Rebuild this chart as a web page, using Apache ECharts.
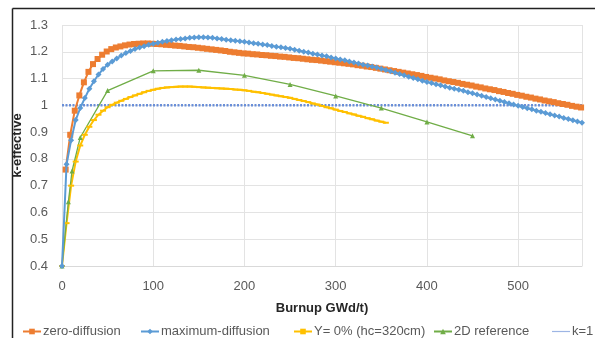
<!DOCTYPE html>
<html>
<head>
<meta charset="utf-8">
<script src="https://cdn.jsdelivr.net/npm/echarts@6/dist/echarts.min.js"></script>
<style>html,body{margin:0;padding:0;background:#fff}#c{width:595px;height:338px}</style>
</head>
<body>
<div id="c"></div>
<script>
// ---- data ----
const seriesNames = ['zero-diffusion', 'maximum-diffusion', 'Y= 0% (hc=320cm)', '2D reference', 'k=1'];
const xTicks = [0, 100, 200, 300, 400, 500];
const yTicks = [0.4, 0.5, 0.6, 0.7, 0.8, 0.9, 1, 1.1, 1.2, 1.3];

const zeroBurnup = [4,9,14,19,24,29,34,39,44,49,54,59,64,69,74,79,84,89,94,99,
  104,109,114,119,124,129,134,139,144,149,154,159,164,169,174,179,184,189,194,199,
  204,209,214,219,224,229,234,239,244,249,254,259,264,269,274,279,284,289,294,299,
  304,309,314,319,324,329,334,339,344,349,354,359,364,369,374,379,384,389,394,399,
  404,409,414,419,424,429,434,439,444,449,454,459,464,469,474,479,484,489,494,499,
  504,509,514,519,524,529,534,539,544,549,554,559,564,569];
const zeroK = [0.76,0.89,0.98,1.037,1.086,1.125,1.154,1.173,1.189,1.201,1.21,1.216,1.22,1.224,1.227,1.229,1.23,1.231,1.231,1.23,
  1.229,1.228,1.226,1.225,1.223,1.222,1.22,1.218,1.217,1.215,1.213,1.211,1.209,1.207,1.205,1.203,1.2,1.198,1.196,1.194,
  1.193,1.191,1.19,1.188,1.187,1.185,1.184,1.182,1.181,1.179,1.177,1.176,1.174,1.172,1.17,1.169,1.167,1.165,1.163,1.161,
  1.159,1.157,1.155,1.153,1.15,1.148,1.145,1.143,1.14,1.137,1.134,1.131,1.128,1.125,1.122,1.119,1.116,1.113,1.11,1.106,
  1.103,1.1,1.097,1.093,1.09,1.087,1.084,1.08,1.077,1.074,1.07,1.067,1.063,1.06,1.057,1.053,1.05,1.046,1.043,1.039,
  1.036,1.032,1.029,1.025,1.022,1.018,1.015,1.012,1.008,1.005,1.002,0.998,0.995,0.992];

const maxBurnup = [0,5,10,15,20,25,30,35,40,45,50,55,60,65,70,75,80,85,90,95,100,
  105,110,115,120,125,130,135,140,145,150,155,160,165,170,175,180,185,190,195,200,
  205,210,215,220,225,230,235,240,245,250,255,260,265,270,275,280,285,290,295,300,
  305,310,315,320,325,330,335,340,345,350,355,360,365,370,375,380,385,390,395,400,
  405,410,415,420,425,430,435,440,445,450,455,460,465,470,475,480,485,490,495,500,
  505,510,515,520,525,530,535,540,545,550,555,560,565,570];
const maxK = [0.40,0.78,0.87,0.945,0.99,1.027,1.062,1.09,1.115,1.136,1.152,1.164,1.175,1.186,1.195,1.203,1.21,1.216,1.221,1.226,1.23,
  1.234,1.237,1.24,1.243,1.246,1.248,1.25,1.252,1.253,1.254,1.254,1.253,1.252,1.25,1.248,1.245,1.243,1.241,1.239,1.237,
  1.235,1.232,1.23,1.227,1.225,1.222,1.219,1.217,1.214,1.211,1.208,1.204,1.2,1.197,1.193,1.19,1.186,1.183,1.179,1.175,
  1.171,1.168,1.164,1.16,1.156,1.152,1.149,1.145,1.141,1.137,1.132,1.127,1.122,1.117,1.112,1.107,1.102,1.097,1.092,1.087,
  1.083,1.079,1.075,1.07,1.066,1.062,1.058,1.054,1.049,1.045,1.04,1.036,1.031,1.026,1.022,1.017,1.012,1.008,1.003,0.998,
  0.994,0.989,0.985,0.98,0.976,0.971,0.967,0.962,0.958,0.953,0.949,0.944,0.94,0.935];

const yBurnup = [0,5,10,15,20,25,30,35,40,45,50,55,60,65,70,75,80,85,90,95,
  100,105,110,115,120,125,130,135,140,145,150,155,160,165,170,175,180,185,190,195,
  200,205,210,215,220,225,230,235,240,245,250,255,260,265,270,275,280,285,290,295,
  300,305,310,315,320,325,330,335,340,345,350,355];
const yK = [0.40,0.56,0.70,0.79,0.85,0.89,0.92,0.945,0.965,0.98,0.993,1.002,1.01,1.017,1.024,1.031,1.037,1.043,1.049,1.054,
  1.058,1.062,1.065,1.067,1.068,1.069,1.07,1.07,1.07,1.069,1.068,1.067,1.066,1.065,1.064,1.063,1.062,1.061,1.059,1.058,
  1.056,1.054,1.051,1.049,1.046,1.043,1.04,1.037,1.034,1.031,1.028,1.024,1.02,1.016,1.012,1.007,1.003,0.998,0.993,0.989,
  0.984,0.979,0.975,0.97,0.966,0.961,0.957,0.952,0.948,0.943,0.939,0.935];

const refBurnup = [0, 7, 11, 20, 50, 100, 150, 200, 250, 300, 350, 400, 450];
const refK = [0.40, 0.64, 0.755, 0.88, 1.055, 1.129, 1.131, 1.112, 1.078, 1.035, 0.99, 0.938, 0.886];

const k1Burnup = [0, 570];
const k1K = [1, 1];

// ---- chart ----
function pairs(xs, ys) { return xs.map((x, i) => [x, ys[i]]); }
const FONT = 'Liberation Sans';
const legendLefts = [22, 140, 293, 433, 552];
const chart = echarts.init(document.getElementById('c'), null, {renderer: 'canvas'});
chart.setOption({
  animation: false,
  backgroundColor: '#fff',
  textStyle: {fontFamily: FONT},
  graphic: [
    {type: 'line', shape: {x1: 12.5, y1: 8.5, x2: 595, y2: 8.5}, style: {stroke: '#222', lineWidth: 1.5}},
    {type: 'line', shape: {x1: 12.5, y1: 8.5, x2: 12.5, y2: 338}, style: {stroke: '#222', lineWidth: 1.5}}
  ],
  grid: {left: 62, top: 25, width: 520, height: 241},
  legend: seriesNames.map((n, i) => ({
    left: legendLefts[i], top: 325, itemWidth: 18, itemHeight: 7, itemGap: 0, padding: 0,
    textStyle: {fontFamily: FONT, fontSize: 13, color: '#595959', padding: [0, 0, 0, -3]},
    data: [i === 4 ? {name: n, icon: 'path://M0,3H18V4.2H0Z', itemStyle: {color: '#9DB5E4'}} : n]
  })),
  xAxis: {
    type: 'value', min: 0, max: 570, interval: 100,
    name: 'Burnup GWd/t)', nameLocation: 'middle', nameGap: 36,
    nameTextStyle: {fontFamily: FONT, fontWeight: 'bold', fontSize: 13, color: '#262626'},
    axisLine: {show: true, lineStyle: {color: '#d9d9d9'}},
    axisTick: {show: false},
    axisLabel: {fontFamily: FONT, fontSize: 13, color: '#595959', margin: 14, showMaxLabel: false,
      formatter: v => xTicks.includes(v) ? String(v) : ''},
    splitLine: {show: true, lineStyle: {color: '#e3e3e3'}}
  },
  yAxis: {
    type: 'value', min: 0.4, max: 1.3, interval: 0.1,
    name: 'k-effective', nameLocation: 'middle', nameGap: 38, nameMoveOverlap: false,
    nameTextStyle: {fontFamily: FONT, fontWeight: 'bold', fontSize: 13, color: '#262626'},
    axisLine: {show: false}, axisTick: {show: false},
    axisLabel: {fontFamily: FONT, fontSize: 13, color: '#595959', margin: 14,
      formatter: v => { const t = yTicks.find(a => Math.abs(a - v) < 1e-6); return t === undefined ? '' : String(t); }},
    splitLine: {show: true, lineStyle: {color: '#e3e3e3'}}
  },
  series: [
    {name: seriesNames[0], type: 'line', data: pairs(zeroBurnup, zeroK), color: '#ED7D31',
      symbol: 'rect', symbolSize: 6, showAllSymbol: true, lineStyle: {width: 2}, z: 3},
    {name: seriesNames[1], type: 'line', data: pairs(maxBurnup, maxK), color: '#5B9BD5',
      symbol: 'diamond', symbolSize: 6, showAllSymbol: true, lineStyle: {width: 2}, z: 4},
    {name: seriesNames[2], type: 'line', data: pairs(yBurnup, yK), color: '#FFC000',
      symbol: 'path://M0,0H10V2H0Z', symbolSize: [6, 2], showAllSymbol: true, lineStyle: {width: 2}, z: 3},
    {name: seriesNames[3], type: 'line', data: pairs(refBurnup, refK), color: '#70AD47',
      symbol: 'triangle', symbolSize: 5, showAllSymbol: true, lineStyle: {width: 1.3}, z: 3},
    {name: seriesNames[4], type: 'line', data: pairs(k1Burnup, k1K), color: '#6A8FD8',
      symbol: 'none', lineStyle: {width: 2.5, type: [2, 1.5]}, z: 2}
  ]
});
</script>
</body>
</html>
